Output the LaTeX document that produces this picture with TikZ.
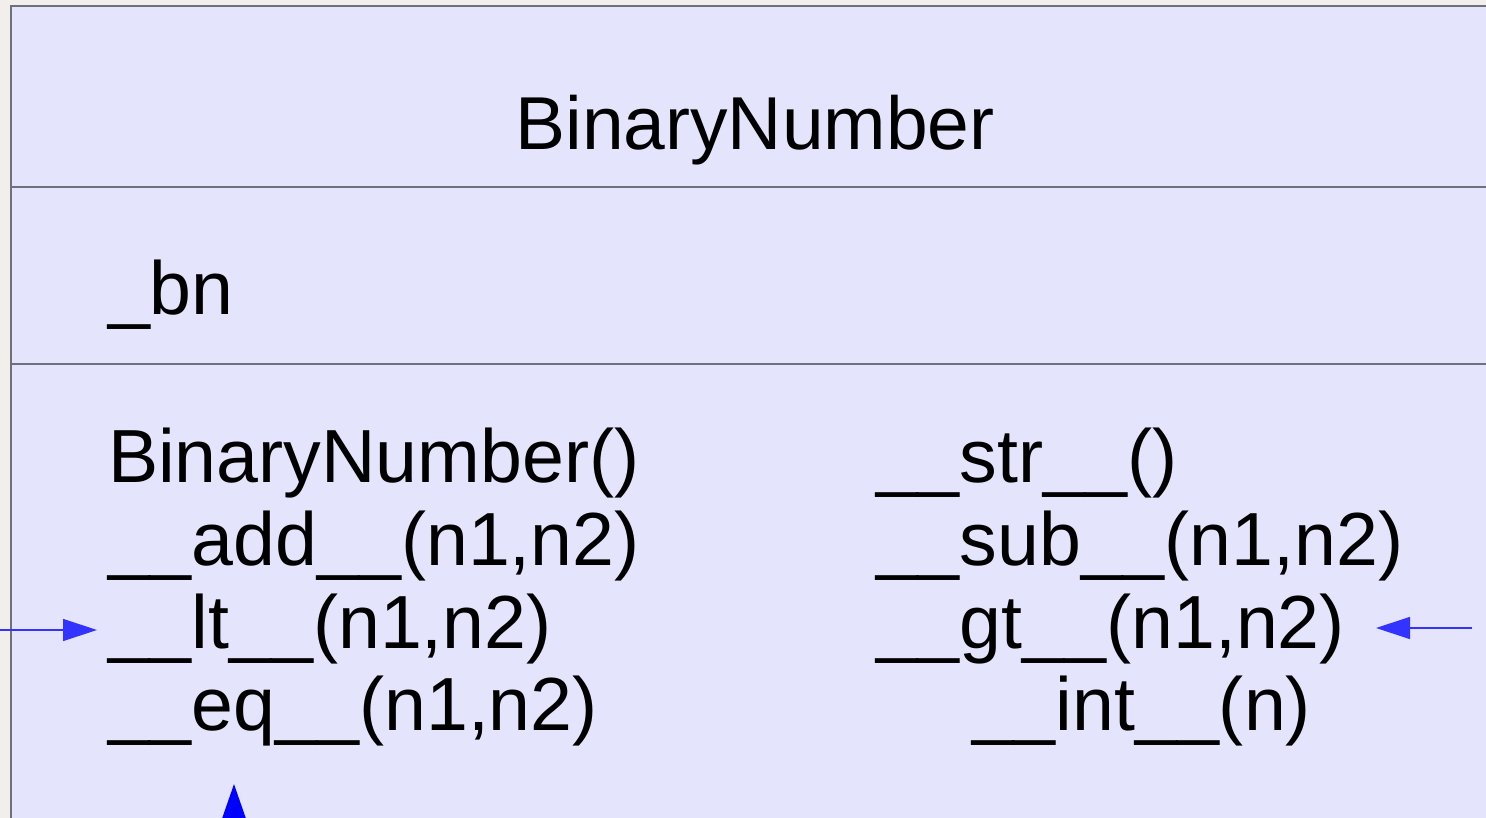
\documentclass[tikz,border=0pt]{standalone}
\usepackage{fontspec}
\setmainfont{Liberation Sans}
\usetikzlibrary{arrows.meta}
\definecolor{bgout}{RGB}{242,238,235}
\definecolor{boxfill}{RGB}{228,228,252}
\definecolor{boxline}{RGB}{112,112,122}
\definecolor{arrowlt}{RGB}{51,51,255}
\definecolor{arrowdk}{RGB}{0,0,255}
\tikzset{
  txt/.style={anchor=base west, inner sep=0pt, outer sep=0pt, font=\fontsize{75.3}{80}\selectfont, text=black},
  ttl/.style={anchor=base, inner sep=0pt, outer sep=0pt, font=\fontsize{75}{80}\selectfont, text=black},
  sep/.style={draw=boxline, line width=1.4pt},
  thinarrow/.style={draw=arrowlt, line width=1.3pt, -{Triangle[length=34pt,width=22pt]}},
  thickarrow/.style={draw=arrowdk, fill=arrowdk, line width=2pt, -{Triangle[length=34pt,width=23pt]}}
}
\begin{document}
\begin{tikzpicture}[x=1pt,y=-1pt]
\useasboundingbox (0,0) rectangle (1486,818);
\clip (0,0) rectangle (1486,818);
\fill[bgout] (0,0) rectangle (1486,818);
\filldraw[fill=boxfill, draw=boxline, line width=1.6pt] (11,6) rectangle (1500,840);
\draw[sep] (11,187) -- (1500,187);
\draw[sep] (11,364) -- (1500,364);
\node[ttl] (title) at (755,150) {BinaryNumber};
\node[txt] (bn) at (108,315) {\_bn};
\node[txt] (ctor) at (108,482) {BinaryNumber()};
\node[txt] (add) at (108,565) {\_\_add\_\_(n1,n2)};
\node[txt] (lt) at (108,648) {\_\_lt\_\_(n1,n2)};
\node[txt] (eq) at (108,730) {\_\_eq\_\_(n1,n2)};
\node[txt] (str) at (876,482) {\_\_str\_\_()};
\node[txt] (sub) at (876,565) {\_\_sub\_\_(n1,n2)};
\node[txt] (gt) at (876,648) {\_\_gt\_\_(n1,n2)};
\node[txt] (int) at (972,730) {\_\_int\_\_(n)};
\coordinate (lsrc) at (0,630);
\coordinate (ltip) at (97,630);
\coordinate (rsrc) at (1472,628);
\coordinate (rtip) at (1376,628);
\coordinate (bsrc) at (234,860);
\coordinate (btip) at (234,784);
\draw[thinarrow] (lsrc) -- (ltip);
\draw[thinarrow] (rsrc) -- (rtip);
\draw[thickarrow] (bsrc) -- (btip);
\end{tikzpicture}
\end{document}
